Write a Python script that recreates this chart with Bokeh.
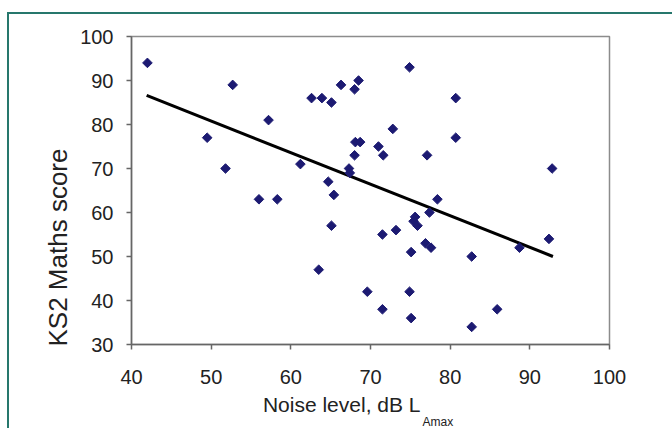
from bokeh.plotting import figure
from bokeh.models import Range1d, FixedTicker, Title
from bokeh.embed import file_html
from bokeh.resources import INLINE

# ---- data ----
noise_level = [42.0, 49.5, 51.8, 52.7, 56.0, 58.3, 57.2, 61.2, 62.6, 63.5,
               63.9, 64.7, 65.1, 65.1, 65.4, 66.3, 67.3, 67.4, 68.0, 68.0,
               68.1, 68.5, 68.7, 69.6, 71.0, 71.5, 71.6, 71.5, 72.8, 73.2,
               74.9, 74.9, 75.1, 75.1, 75.4, 75.6, 75.9, 76.9, 77.1, 77.4,
               77.6, 78.4, 80.7, 80.7, 82.7, 82.7, 85.9, 88.7, 92.4, 92.8]
maths_score = [94, 77, 70, 89, 63, 63, 81, 71, 86, 47,
               86, 67, 85, 57, 64, 89, 70, 69, 88, 73,
               76, 90, 76, 42, 75, 55, 73, 38, 79, 56,
               93, 42, 51, 36, 58, 59, 57, 53, 73, 60,
               52, 63, 86, 77, 50, 34, 38, 52, 54, 70]
trend_x = [41.9, 92.9]
trend_y = [86.6, 50.0]
x_ticks = [40, 50, 60, 70, 80, 90, 100]
y_ticks = [30, 40, 50, 60, 70, 80, 90, 100]
x_title = "Noise level, dB L"
x_title_sub = "Amax"
y_title = "KS2 Maths score"

FONT = "Liberation Sans"
NAVY = "#1c1a72"
TEXT = "#222222"
AXIS = "#666666"
TEAL = "#26776c"

p = figure(width=672, height=428, output_backend="svg", toolbar_location=None,
           x_range=Range1d(40, 100), y_range=Range1d(30, 100),
           min_border_left=131, min_border_right=63,
           min_border_top=36, min_border_bottom=84)
p.background_fill_color = "white"
p.border_fill_color = None
p.outline_line_color = "#8c8c8c"
p.outline_line_width = 1.5
p.xgrid.grid_line_color = None
p.ygrid.grid_line_color = None
# teal frame around the figure (left and top edges visible)
p.styles = {"background-color": "white",
            "box-shadow": f"inset 7px 12px 0 0 white, inset 9px 14px 0 0 {TEAL}"}

for ax, ticks in ((p.xaxis, x_ticks), (p.yaxis, y_ticks)):
    ax.ticker = FixedTicker(ticks=ticks)
    ax.minor_tick_line_color = None
    ax.major_tick_in = 0
    ax.major_tick_out = 5
    ax.axis_line_color = AXIS
    ax.axis_line_width = 1.5
    ax.major_tick_line_color = AXIS
    ax.major_tick_line_width = 1.5
    ax.major_label_text_font = FONT
    ax.major_label_text_font_size = "20px"
    ax.major_label_text_color = TEXT

p.xaxis.major_label_standoff = 20
p.yaxis.major_label_standoff = 13

p.line(trend_x, trend_y, line_color="black", line_width=3)
p.scatter(noise_level, maths_score, marker="square", angle=0.7853982, size=6.8,
          fill_color=NAVY, line_color=NAVY)

# axis titles as side-panel titles so they can be placed like the original
p.add_layout(Title(text=y_title, align="left", offset=-2, standoff=10,
                   text_font=FONT, text_font_size="26px",
                   text_font_style="normal", text_color=TEXT), "left")
p.add_layout(Title(text=x_title, align="right", offset=189, standoff=9,
                   text_line_height=0.75,
                   text_font=FONT, text_font_size="21px",
                   text_font_style="normal", text_color=TEXT), "below")
p.add_layout(Title(text=x_title_sub, align="left", offset=291, standoff=-15,
                   text_font=FONT, text_font_size="12px",
                   text_font_style="normal", text_color=TEXT), "below")

open("out.html", "w").write(file_html(p, INLINE))
